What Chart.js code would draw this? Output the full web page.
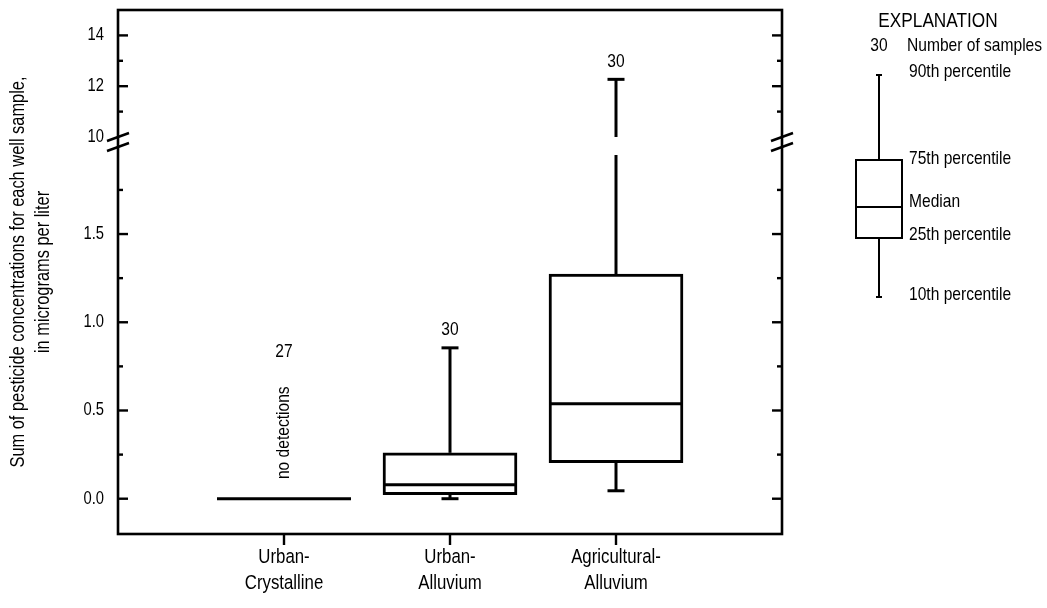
<!DOCTYPE html>
<html>
<head>
<meta charset="utf-8">
<script src="https://cdn.jsdelivr.net/npm/chart.js@4.4.1/dist/chart.umd.min.js"></script>
<style>
  html, body { margin: 0; padding: 0; background: #fff; }
  canvas { display: block; }
</style>
</head>
<body>
<canvas id="chart" width="1047" height="608"></canvas>
<script>
// Pesticide concentration summaries by land-use / aquifer group
const categories = ['Urban-Crystalline', 'Urban-Alluvium', 'Agricultural-Alluvium'];
const categoryLabelLines = [['Urban-', 'Crystalline'], ['Urban-', 'Alluvium'], ['Agricultural-', 'Alluvium']];
const sampleCounts = [27, 30, 30];
const hasDetections = [false, true, true];
const pct10 = [0, 0, 0.045];
const pct25 = [0, 0.023, 0.204];
const medians = [0, 0.079, 0.538];
const pct75 = [0, 0.26, 1.273];
const pct90 = [0, 0.855, 12.27];

// Broken y axis: lower and upper segments
const lowerTickValues = [0, 0.25, 0.5, 0.75, 1, 1.25, 1.5, 1.75];
const lowerTickLabels = ['0.0', '0.5', '1.0', '1.5'];
const upperTickValues = [10, 11, 12, 13, 14];
const upperTickLabels = ['10', '12', '14'];

const yTitleLines = ['Sum of pesticide concentrations for each well sample,', 'in micrograms per liter'];
const keyLabels = ['Number of samples', '90th percentile', '75th percentile', 'Median', '25th percentile', '10th percentile'];

// Arial-narrow look: Liberation Sans compressed horizontally
const FONT_FAMILY = "'Liberation Sans', Arial, sans-serif";
const NARROW = 0.82;
Chart.defaults.font.family = FONT_FAMILY;
Chart.defaults.color = '#000';

function line(ctx, x1, y1, x2, y2) {
  ctx.beginPath(); ctx.moveTo(x1, y1); ctx.lineTo(x2, y2); ctx.stroke();
}
function text(ctx, str, x, y, size, align, rotated) {
  ctx.save();
  ctx.translate(x, y);
  if (rotated) ctx.rotate(-Math.PI / 2);
  ctx.scale(NARROW, 1);
  ctx.font = size + 'px ' + FONT_FAMILY;
  ctx.textAlign = align || 'center';
  ctx.textBaseline = 'middle';
  ctx.fillStyle = '#000';
  ctx.fillText(str, 0, 0);
  ctx.restore();
}
function labelFor(value, labels) {
  const hit = labels.find(l => Math.abs(parseFloat(l) - value) < 1e-9);
  return hit === undefined ? '' : hit;
}
function noScalePadding(s) {
  s.paddingLeft = 0; s.paddingRight = 0; s.paddingTop = 0; s.paddingBottom = 0;
}

const boxDecorations = {
  id: 'boxDecorations',
  afterDatasetsDraw(chart) {
    const { ctx, chartArea: area, scales } = chart;
    const xs = scales.x, lo = scales.y, hi = scales.yUp;
    const boxes = chart.getDatasetMeta(0).data;
    ctx.save();
    ctx.strokeStyle = '#000';
    ctx.lineCap = 'butt';

    // whiskers, medians, sample counts
    categories.forEach((name, i) => {
      const cx = xs.getPixelForValue(i + 1);
      const half = boxes[i].width / 2;
      ctx.lineWidth = 3;
      const yMed = lo.getPixelForValue(medians[i]);
      line(ctx, cx - half, yMed, cx + half, yMed);
      if (!hasDetections[i]) {
        const y0 = lo.getPixelForValue(0);
        text(ctx, String(sampleCounts[i]), cx, y0 - 147, 19);
        text(ctx, 'no detections', cx, y0 - 66, 19, 'center', true);
        return;
      }
      const capHalf = 8.5;
      const y25 = lo.getPixelForValue(pct25[i]);
      const y10 = lo.getPixelForValue(pct10[i]);
      line(ctx, cx, y25, cx, y10);
      line(ctx, cx - capHalf, y10, cx + capHalf, y10);
      const y75 = lo.getPixelForValue(pct75[i]);
      let yTop;
      if (pct90[i] <= lo.max) {
        yTop = lo.getPixelForValue(pct90[i]);
        line(ctx, cx, y75, cx, yTop);
      } else {
        line(ctx, cx, y75, cx, lo.top + 18);
        yTop = hi.getPixelForValue(pct90[i]);
        line(ctx, cx, hi.bottom, cx, yTop);
      }
      line(ctx, cx - capHalf, yTop, cx + capHalf, yTop);
      text(ctx, String(sampleCounts[i]), cx, yTop - 18, 19);
    });

    // plot frame
    ctx.lineWidth = 2.6;
    ctx.strokeRect(area.left, area.top, area.right - area.left, area.bottom - area.top);

    // inward tick marks on both edges, labels on the left
    const drawTicks = (scale, values, labels, skipMark) => {
      values.forEach(v => {
        const py = scale.getPixelForValue(v);
        const lab = labelFor(v, labels);
        if (lab) text(ctx, lab, area.left - 14, py, 18, 'right');
        if (v === skipMark) return;
        const len = lab ? 10 : 5;
        line(ctx, area.left, py, area.left + len, py);
        line(ctx, area.right, py, area.right - len, py);
      });
    };
    ctx.lineWidth = 2.4;
    drawTicks(lo, lowerTickValues, lowerTickLabels, null);
    drawTicks(hi, upperTickValues, upperTickLabels, hi.min);

    // category ticks and labels below the axis
    categories.forEach((name, i) => {
      const px = xs.getPixelForValue(i + 1);
      line(ctx, px, area.bottom, px, area.bottom + 11);
      categoryLabelLines[i].forEach((ln, k) => {
        text(ctx, ln, px, area.bottom + 23 + k * 26, 20.5);
      });
    });

    // axis break marks
    const yb = hi.bottom;
    ctx.lineWidth = 2.4;
    [area.left, area.right].forEach(x0 => {
      line(ctx, x0 - 11, yb + 4, x0 + 11, yb - 4);
      line(ctx, x0 - 11, yb + 14, x0 + 11, yb + 6);
    });

    // y-axis title
    const titleY = (area.top + area.bottom) / 2;
    text(ctx, yTitleLines[0], 18, titleY, 20, 'center', true);
    text(ctx, yTitleLines[1], 43, titleY, 20, 'center', true);

    // explanation key
    const L = area.right, T = area.top;
    const kx = L + 97, boxL = L + 74, boxR = L + 120;
    const k90 = T + 65, k75 = T + 150, kMed = T + 197, k25 = T + 228, k10 = T + 287;
    ctx.lineWidth = 2;
    line(ctx, kx, k90, kx, k75);
    line(ctx, kx, k25, kx, k10);
    line(ctx, kx - 3, k90, kx + 3, k90);
    line(ctx, kx - 3, k10, kx + 3, k10);
    ctx.strokeRect(boxL, k75, boxR - boxL, k25 - k75);
    line(ctx, boxL, kMed, boxR, kMed);

    text(ctx, 'EXPLANATION', L + 156, T + 11, 21);
    text(ctx, '30', kx, T + 36, 19);
    const keyX = L + 127;
    const keyY = [T + 36, T + 62, T + 149, T + 192, T + 225, T + 285];
    keyLabels.forEach((lab, k) => text(ctx, lab, keyX - (k === 0 ? 2 : 0), keyY[k], 19, 'left'));
    ctx.restore();
  }
};

new Chart(document.getElementById('chart'), {
  type: 'bar',
  data: {
    datasets: [{
      label: 'Interquartile range',
      data: categories.map((c, i) => ({ x: i + 1, y: [pct25[i], pct75[i]] })),
      xAxisID: 'x',
      yAxisID: 'y',
      backgroundColor: '#fff',
      borderColor: '#000',
      borderWidth: 3,
      borderSkipped: false,
      barThickness: 134
    }]
  },
  options: {
    responsive: false,
    animation: false,
    devicePixelRatio: 1,
    layout: { padding: { top: 10, right: 265, bottom: 0, left: 0 } },
    plugins: { legend: { display: false }, tooltip: { enabled: false } },
    scales: {
      x: {
        type: 'linear',
        position: 'bottom',
        offset: false,
        min: 0,
        max: 4,
        afterBuildTicks: s => { s.ticks = categories.map((c, i) => ({ value: i + 1 })); },
        afterFit: s => { s.height = 74; noScalePadding(s); },
        grid: { display: false, drawTicks: false, offset: false },
        border: { display: false },
        ticks: { display: false, callback: v => categoryLabelLines[Math.round(v) - 1] }
      },
      y: {
        type: 'linear',
        position: 'left',
        stack: 'left',
        stackWeight: 397,
        weight: 0,
        min: -0.2,
        max: 2.05,
        afterBuildTicks: s => { s.ticks = lowerTickValues.map(v => ({ value: v })); },
        afterFit: s => { s.width = 118; noScalePadding(s); },
        grid: { display: false, drawTicks: false },
        border: { display: false },
        ticks: { display: false, callback: v => labelFor(v, lowerTickLabels) }
      },
      yUp: {
        type: 'linear',
        position: 'left',
        stack: 'left',
        stackWeight: 127,
        weight: 1,
        min: 10,
        max: 15,
        afterBuildTicks: s => { s.ticks = upperTickValues.map(v => ({ value: v })); },
        afterFit: s => { s.width = 118; noScalePadding(s); },
        grid: { display: false, drawTicks: false },
        border: { display: false },
        ticks: { display: false, callback: v => labelFor(v, upperTickLabels) }
      }
    }
  },
  plugins: [boxDecorations]
});
</script>
</body>
</html>
